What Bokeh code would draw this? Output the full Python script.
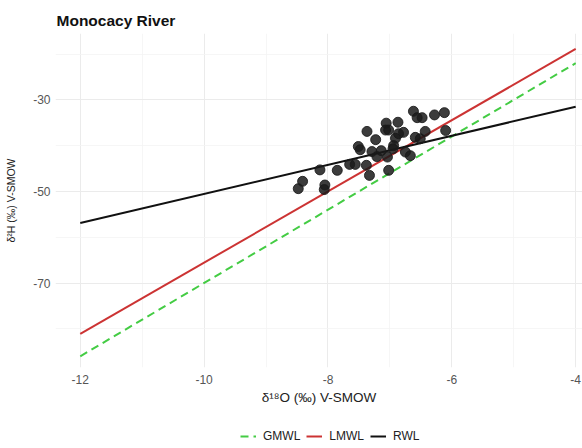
from bokeh.plotting import figure
from bokeh.layouts import column
from bokeh.models import Range1d, FixedTicker, Legend, LegendItem
from bokeh.embed import file_html
from bokeh.resources import INLINE

# Sample data (delta 18O, delta 2H)
d18o = [-8.48, -8.41, -8.13, -8.05, -8.06, -7.85, -7.65, -7.56, -7.37, -7.51,
        -7.48, -7.38, -7.33, -7.23, -7.29, -7.21, -7.14, -7.06, -7.07, -7.02,
        -7.04, -7.02, -6.94, -6.91, -6.87, -6.86, -6.78, -6.75, -6.67, -6.62,
        -6.56, -6.48, -6.59, -6.51, -6.43, -6.28, -6.12, -6.10, -6.95]
d2h = [-49.4, -47.8, -45.3, -48.6, -49.6, -45.4, -44.1, -44.1, -36.9, -40.2,
       -40.9, -44.3, -46.5, -38.7, -41.3, -42.4, -41.1, -35.1, -36.6, -36.6,
       -42.5, -45.4, -40.0, -38.4, -34.9, -37.4, -37.1, -41.4, -42.2, -32.5,
       -33.9, -33.9, -38.2, -38.5, -36.9, -33.3, -32.8, -36.7, -40.7]

# Line endpoints at x = -12 and x = -4
line_x = [-12, -4]
gmwl_y = [-86.0, -22.0]
lmwl_y = [-81.1, -18.9]
rwl_y = [-56.9, -31.5]

series_names = ["GMWL", "LMWL", "RWL"]
series_colors = ["#44CC44", "#CC3333", "#111111"]
series_dash = ["8 5", "solid", "solid"]

x_ticks = [-12, -10, -8, -6, -4]
x_tick_labels = ["-12", "-10", "-8", "-6", "-4"]
x_minor = [-11, -9, -7, -5]
y_ticks = [-70, -50, -30]
y_tick_labels = ["-70", "-50", "-30"]
y_minor = [-80, -60, -40, -20]

FONT = "Liberation Sans"

p = figure(frame_width=527, frame_height=334, output_backend="svg", toolbar_location=None,
           x_range=Range1d(-12.4, -3.89), y_range=Range1d(-88.45, -15.52),
           min_border_left=55, min_border_right=0, min_border_top=33,
           min_border_bottom=57, title="Monocacy River")
p.outline_line_color = None
p.background_fill_color = "white"
p.border_fill_color = "white"

p.title.text_font = FONT
p.title.text_font_size = "15.5px"
p.title.text_font_style = "bold"
p.title.text_color = "#111111"
p.title.align = "left"
p.title.offset = 1

for ax in (p.xaxis[0], p.yaxis[0]):
    ax.axis_line_color = None
    ax.major_tick_line_color = None
    ax.minor_tick_line_color = None
    ax.major_tick_out = 0
    ax.major_tick_in = 0
    ax.minor_tick_out = 0
    ax.minor_tick_in = 0
    ax.major_label_text_font = FONT
    ax.major_label_text_font_size = "12px"
    ax.major_label_text_color = "#555555"
    ax.axis_label_text_font = FONT
    ax.axis_label_text_font_style = "normal"
    ax.axis_label_text_color = "#222222"

p.xaxis[0].ticker = FixedTicker(ticks=x_ticks, minor_ticks=x_minor)
p.yaxis[0].ticker = FixedTicker(ticks=y_ticks, minor_ticks=y_minor)
p.xaxis[0].major_label_overrides = dict(zip(x_ticks, x_tick_labels))
p.yaxis[0].major_label_overrides = dict(zip(y_ticks, y_tick_labels))
p.xaxis[0].axis_label = "δ¹⁸O (‰) V-SMOW"
p.yaxis[0].axis_label = "δ²H (‰) V-SMOW"
p.xaxis[0].axis_label_text_font_size = "13.5px"
p.yaxis[0].axis_label_text_font_size = "10.5px"
p.xaxis[0].major_label_standoff = 7
p.yaxis[0].major_label_standoff = 5
p.xaxis[0].axis_label_standoff = 3
p.yaxis[0].axis_label_standoff = 13

for g in (p.xgrid[0], p.ygrid[0]):
    g.grid_line_color = "#EBEBEB"
    g.grid_line_width = 1
    g.minor_grid_line_color = "#F4F4F4"
    g.minor_grid_line_width = 0.8

series_y = [gmwl_y, lmwl_y, rwl_y]
for yv, c, d in zip(series_y, series_colors, series_dash):
    p.line(line_x, yv, line_color=c, line_width=2, line_dash=d)

p.scatter(d18o, d2h, size=10, fill_color="#1a1a1a", fill_alpha=0.85,
          line_color="#1a1a1a", line_alpha=0.85)

# Legend strip below the plot (its line renderers lie outside its view;
# they only supply the legend keys)
lg = figure(width=582, height=24, output_backend="svg", toolbar_location=None,
            x_range=Range1d(0, 1), y_range=Range1d(0, 1),
            min_border=0, min_border_left=0, min_border_right=0,
            min_border_top=0, min_border_bottom=0)
lg.axis.visible = False
lg.grid.visible = False
lg.outline_line_color = None
lg.background_fill_color = "white"
lg.border_fill_color = "white"

items = []
for name, yv, c, d in zip(series_names, series_y, series_colors, series_dash):
    r = lg.line(line_x, yv, line_color=c, line_width=2, line_dash=d)
    items.append(LegendItem(label=name, renderers=[r]))

legend = Legend(items=items, orientation="horizontal", location=(185, 5))
legend.label_text_font = FONT
legend.label_text_font_size = "12px"
legend.label_text_color = "#222222"
legend.border_line_color = None
legend.background_fill_alpha = 0
legend.glyph_width = 16
legend.glyph_height = 12
legend.label_height = 12
legend.label_standoff = 7
legend.spacing = 6
legend.margin = 0
legend.padding = 0
lg.add_layout(legend, "center")

layout = column(p, lg, spacing=0)
open("out.html", "w").write(file_html(layout, INLINE))
